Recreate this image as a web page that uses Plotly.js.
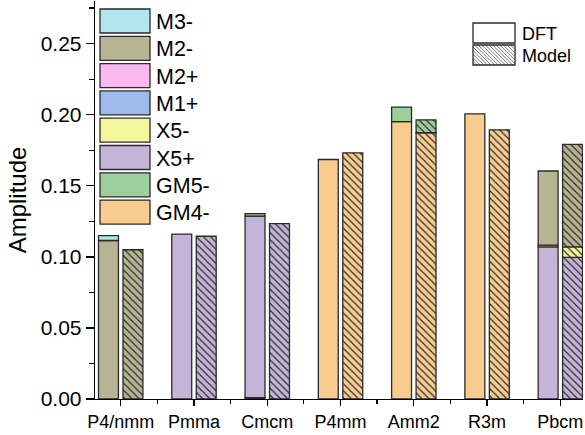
<!DOCTYPE html>
<html>
<head>
<meta charset="utf-8">
<script src="https://cdn.plot.ly/plotly-3.0.1.min.js"></script>
<style>html,body{margin:0;padding:0;background:#fff;}#chart{width:585px;height:435px;}</style>
</head>
<body>
<div id="chart"></div>
<script>
// ---- data ----
const categories = ['P4/nmm', 'Pmma', 'Cmcm', 'P4mm', 'Amm2', 'R3m', 'Pbcm'];
// stack order, bottom to top
const modes = ['GM4-', 'GM5-', 'X5+', 'X5-', 'M1+', 'M2+', 'M2-', 'M3-'];
const modeColors = ['#f8cc8f', '#9ccf9c', '#c4b5d8', '#f6f69c', '#9cbaec', '#fbb8f0', '#b6b492', '#b2e5ee'];

// DFT amplitudes
const dftGM4 = [null, null, 0.0010, 0.1685, 0.1952, 0.2006, null];
const dftGM5 = [null, null, null, null, 0.0101, null, null];
const dftX5p = [null, 0.1160, 0.1277, null, null, null, 0.1070];
const dftX5m = [null, null, null, null, null, null, 0.0012];
const dftM1p = [null, null, null, null, null, null, null];
const dftM2p = [null, null, null, null, null, null, null];
const dftM2m = [0.1115, null, 0.0017, null, null, null, 0.0522];
const dftM3m = [0.0035, null, null, null, null, null, null];

// Model amplitudes
const modGM4 = [null, null, null, 0.1732, 0.1873, 0.1894, null];
const modGM5 = [null, null, null, null, 0.0091, null, null];
const modX5p = [null, 0.1145, 0.1234, null, null, null, 0.0996];
const modX5m = [null, null, null, null, null, null, 0.0074];
const modM1p = [null, null, null, null, null, null, null];
const modM2p = [null, null, null, null, null, null, null];
const modM2m = [0.1050, null, null, null, null, null, 0.0722];
const modM3m = [null, null, null, null, null, null, null];

const legendOrder = ['M3-', 'M2-', 'M2+', 'M1+', 'X5-', 'X5+', 'GM5-', 'GM4-'];
const methodLabels = ['DFT', 'Model'];

// ---- build ----
const FONT = 'Liberation Sans, Arial, Helvetica, sans-serif';
const xpos = categories.map((c, i) => i);
const barW = 0.272;
const dftSet = [dftGM4, dftGM5, dftX5p, dftX5m, dftM1p, dftM2p, dftM2m, dftM3m];
const modSet = [modGM4, modGM5, modX5p, modX5m, modM1p, modM2p, modM2m, modM3m];

function makeTraces(set, offset, label, hatched) {
  const cum = categories.map(() => 0);
  return modes.map((m, k) => {
    const vals = set[k];
    const base = cum.slice();
    vals.forEach((v, i) => { if (v != null) cum[i] += v; });
    const marker = {color: modeColors[k], line: {color: '#2a2a2a', width: 1.3}};
    if (hatched) {
      marker.pattern = {shape: '\\', fillmode: 'replace', bgcolor: modeColors[k], fgcolor: '#2a2a2a', size: 5, solidity: 0.24};
    }
    return {
      type: 'bar', x: xpos, y: vals, base: base, offset: offset, width: barW,
      name: m + ' (' + label + ')', marker: marker, showlegend: false, hoverinfo: 'skip'
    };
  });
}

const traces = [].concat(
  makeTraces(dftSet, -0.302, methodLabels[0], false),
  makeTraces(modSet, 0.032, methodLabels[1], true)
);

// plot-area pixel geometry for the hand-made legends
const W = 585, H = 435, ML = 95, MR = 2, MT = 1, MB = 36;
const PW = W - ML - MR, PH = H - MT - MB;
const px = x => (x - ML) / PW;
const py = y => (H - MB - y) / PH;

const shapes = [];
const annotations = [];
legendOrder.forEach((m, i) => {
  const cy = 21 + i * 27.3;
  const k = modes.indexOf(m);
  shapes.push({type: 'rect', xref: 'paper', yref: 'paper',
    x0: px(100), x1: px(150), y0: py(cy - 12), y1: py(cy + 12),
    fillcolor: modeColors[k], line: {color: '#2a2a2a', width: 1.3}});
  annotations.push({xref: 'paper', yref: 'paper', x: px(154), y: py(cy + 1), xanchor: 'left', yanchor: 'middle',
    text: m, showarrow: false, font: {family: FONT, size: 21.5, color: '#000'}});
});

// DFT / Model key
const boxes = [[23, 43], [45, 65]];
boxes.forEach((b, i) => {
  const x0 = 473, x1 = 515, y0 = b[0], y1 = b[1];
  if (i === 1) {
    let d = '';
    for (let c = x0 - y1; c <= x1 - y0; c += 3.6) {
      // line x - y = c, clipped to the box
      let xa = Math.max(x0, c + y0), xb = Math.min(x1, c + y1);
      if (xb <= xa) continue;
      d += 'M' + px(xa).toFixed(5) + ',' + py(xa - c).toFixed(5) + 'L' + px(xb).toFixed(5) + ',' + py(xb - c).toFixed(5);
    }
    shapes.push({type: 'path', xref: 'paper', yref: 'paper', path: d, line: {color: '#555555', width: 0.8}});
  }
  shapes.push({type: 'rect', xref: 'paper', yref: 'paper',
    x0: px(x0), x1: px(x1), y0: py(y1), y1: py(y0),
    fillcolor: 'rgba(0,0,0,0)', line: {color: '#2a2a2a', width: 1.3}});
  annotations.push({xref: 'paper', yref: 'paper', x: px(520), y: py((y0 + y1) / 2 + 1), xanchor: 'left', yanchor: 'middle',
    text: methodLabels[i], showarrow: false, font: {family: FONT, size: 18, color: '#000'}});
});

const xRange = [-0.35, 6.31];
const yRange = [0, 0.28];

const layout = {
  width: W, height: H,
  margin: {l: ML, r: MR, t: MT, b: MB, pad: 0},
  paper_bgcolor: '#ffffff', plot_bgcolor: '#ffffff',
  barmode: 'overlay',
  font: {family: FONT, color: '#000'},
  xaxis: {
    range: xRange, tickmode: 'array', tickvals: xpos, ticktext: categories,
    ticks: 'outside', ticklen: 6, tickwidth: 1.3, tickcolor: '#000',
    minor: {tickmode: 'linear', tick0: 0.5, dtick: 1, ticks: 'outside', ticklen: 3.5, tickwidth: 1.3, tickcolor: '#000', showgrid: false},
    showline: true, linecolor: '#000', linewidth: 1.3, showgrid: false, zeroline: false,
    tickfont: {family: FONT, size: 18, color: '#000'}, fixedrange: true
  },
  xaxis2: {
    overlaying: 'x', side: 'top', anchor: 'y', range: xRange, tickmode: 'array', tickvals: xpos,
    showticklabels: false, ticks: 'inside', ticklen: 6, tickwidth: 1.3, tickcolor: '#000',
    minor: {tickmode: 'linear', tick0: 0.5, dtick: 1, ticks: 'inside', ticklen: 3.5, tickwidth: 1.3, tickcolor: '#000', showgrid: false},
    showline: true, linecolor: '#000', linewidth: 1.3, showgrid: false, zeroline: false, fixedrange: true
  },
  yaxis: {
    range: yRange, tick0: 0, dtick: 0.05, tickformat: '.2f',
    ticks: 'outside', ticklen: 8, tickwidth: 1.3, tickcolor: '#000',
    minor: {dtick: 0.025, ticks: 'outside', ticklen: 5, tickwidth: 1.3, tickcolor: '#000', showgrid: false},
    showline: true, linecolor: '#000', linewidth: 1.3, showgrid: false, zeroline: false,
    tickfont: {family: FONT, size: 21, color: '#000'},
    title: {text: 'Amplitude', font: {family: FONT, size: 24, color: '#000'}, standoff: 7},
    fixedrange: true
  },
  yaxis2: {
    overlaying: 'y', side: 'right', anchor: 'x', range: yRange, tick0: 0, dtick: 0.05,
    showticklabels: false, ticks: 'inside', ticklen: 6, tickwidth: 1.3, tickcolor: '#000',
    minor: {dtick: 0.025, ticks: 'inside', ticklen: 3.5, tickwidth: 1.3, tickcolor: '#000', showgrid: false},
    showline: true, linecolor: '#000', linewidth: 1.3, showgrid: false, zeroline: false, fixedrange: true
  },
  showlegend: false,
  shapes: shapes,
  annotations: annotations
};

Plotly.newPlot('chart', traces, layout, {displayModeBar: false, staticPlot: true});
</script>
</body>
</html>
